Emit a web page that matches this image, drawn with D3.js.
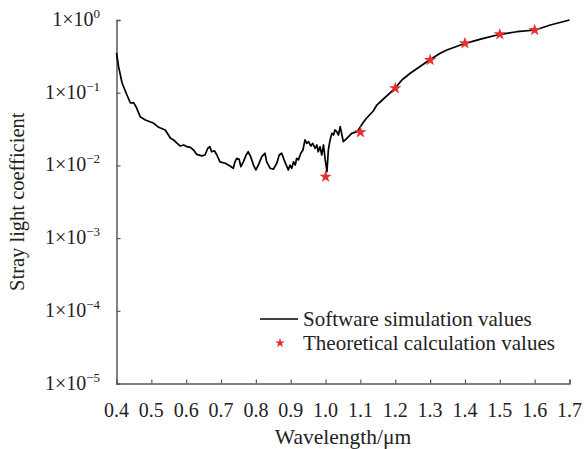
<!DOCTYPE html>
<head>
    <meta charset="utf-8">
    <title>Stray light coefficient</title>
    <style>
        body { margin: 0; background: #fff; }
        text { font-family: "Liberation Serif", "Times New Roman", serif; fill: #222; }
    </style>
</head>
<body>
<svg width="584" height="449"></svg>

<script src="https://d3js.org/d3.v7.min.js"></script>
<script>

    // software simulation curve
    var simWl = [0.400,0.406,0.416,0.430,0.440,0.449,0.456,0.468,0.483,0.507,
        0.521,0.540,0.555,0.564,0.574,0.583,0.593,0.602,0.612,0.621,
        0.630,0.645,0.654,0.662,0.668,0.673,0.681,0.688,0.697,0.712,
        0.726,0.735,0.740,0.745,0.752,0.757,0.764,0.772,0.778,0.785,
        0.793,0.800,0.807,0.817,0.826,0.831,0.841,0.850,0.860,0.867,
        0.874,0.881,0.889,0.893,0.898,0.903,0.908,0.913,0.917,0.922,
        0.929,0.935,0.941,0.946,0.951,0.958,0.963,0.970,0.975,0.979,
        0.984,0.989,0.994,0.999,1.004,1.008,1.013,1.018,1.023,1.027,
        1.032,1.037,1.042,1.051,1.061,1.075,1.090,1.094,1.109,1.118,
        1.137,1.147,1.166,1.200,1.219,1.243,1.271,1.298,1.329,1.348,
        1.401,1.453,1.501,1.549,1.602,1.645,1.700];
    var simVal = [0.352,0.228,0.136,0.093,0.0722,0.0729,0.0642,0.0468,0.0421,0.0379,
        0.0334,0.0307,0.0236,0.0224,0.0201,0.0185,0.0191,0.0181,0.0177,0.0163,
        0.0142,0.0135,0.0139,0.0172,0.0181,0.0154,0.0159,0.0139,0.0112,0.0107,
        0.00981,0.00912,0.0112,0.0125,0.0121,0.0096,0.0112,0.0139,0.0154,0.0132,
        0.0101,0.00865,0.0101,0.0132,0.0147,0.0112,0.00912,0.00884,0.0107,0.0139,
        0.0147,0.0119,0.0096,0.00865,0.0101,0.00912,0.0112,0.0101,0.0125,0.0119,
        0.0147,0.0163,0.0224,0.0201,0.0212,0.0185,0.0201,0.0172,0.0191,0.0154,
        0.0181,0.0139,0.0191,0.0119,0.00819,0.0163,0.0224,0.0276,0.0262,0.0307,
        0.0291,0.0262,0.0341,0.0212,0.0236,0.0276,0.0291,0.0307,0.0395,0.0449,
        0.056,0.0677,0.0819,0.116,0.1495,0.185,0.229,0.282,0.348,0.387,
        0.478,0.56,0.636,0.69,0.729,0.853,1.0];

    // theoretical calculation points
    var theoWl = [1.0, 1.1, 1.2, 1.3, 1.4, 1.5, 1.6];
    var theoVal = [0.0070, 0.0285, 0.115, 0.282, 0.478, 0.636, 0.729];

    var xTicks = [0.4,0.5,0.6,0.7,0.8,0.9,1.0,1.1,1.2,1.3,1.4,1.5,1.6,1.7];
    var yExps = [0, -1, -2, -3, -4, -5];

    var legendNames = ["Software simulation values", "Theoretical calculation values"];

    var svg = d3.select("svg");
    var axisColor = "#5a5a5a";
    var starColor = "#e4312f";

    var x = d3.scaleLinear().domain([0.4, 1.7]).range([116.5, 569.5]);
    var y = d3.scaleLog().domain([1e-5, 1]).range([383.5, 20]);

    // y axis
    var yAxis = svg.append("g")
        .attr("transform", "translate(" + x.range()[0] + ",0)")
        .call(d3.axisRight(y)
            .tickValues(yExps.map(function (e) { return Math.pow(10, e); }))
            .tickSize(4)
            .tickFormat(""));
    yAxis.select(".domain").attr("stroke", axisColor).attr("stroke-width", 1.5);
    yAxis.selectAll(".tick line").attr("stroke", axisColor).attr("stroke-width", 1.2);

    // y tick labels with superscript exponents
    var yl = svg.append("g").selectAll("text")
        .data(yExps)
        .enter().append("text")
        .attr("x", 100)
        .attr("y", function (d) { return y(Math.pow(10, d)) + 6; })
        .attr("text-anchor", "end")
        .attr("font-size", 20);
    yl.append("tspan").text("1×10");
    yl.append("tspan")
        .attr("font-size", 13)
        .attr("dy", -8)
        .text(function (d) { return d === 0 ? "0" : "−" + (-d); });

    // x axis
    var xAxis = svg.append("g")
        .attr("transform", "translate(0," + y.range()[0] + ")")
        .call(d3.axisTop(x)
            .tickValues(xTicks)
            .tickSize(4)
            .tickFormat(""));
    xAxis.select(".domain").attr("stroke", axisColor).attr("stroke-width", 1.5);
    xAxis.selectAll(".tick line").attr("stroke", axisColor).attr("stroke-width", 1.2);

    svg.append("g").selectAll("text")
        .data(xTicks)
        .enter().append("text")
        .attr("x", function (d) { return x(d); })
        .attr("y", 417)
        .attr("text-anchor", "middle")
        .attr("font-size", 20)
        .text(function (d) { return d.toFixed(1); });

    // axis titles
    svg.append("text")
        .attr("x", 343)
        .attr("y", 444)
        .attr("text-anchor", "middle")
        .attr("font-size", 21.5)
        .text("Wavelength/μm");

    svg.append("text")
        .attr("transform", "translate(24," + ((y.range()[0] + y.range()[1]) / 2) + ") rotate(-90)")
        .attr("text-anchor", "middle")
        .attr("font-size", 20.5)
        .text("Stray light coefficient");

    // simulation line
    var line = d3.line()
        .x(function (d) { return x(d[0]); })
        .y(function (d) { return y(d[1]); });

    svg.append("path")
        .datum(d3.zip(simWl, simVal))
        .attr("fill", "none")
        .attr("stroke", "#000")
        .attr("stroke-width", 1.7)
        .attr("stroke-linejoin", "round")
        .attr("d", line);

    // theoretical stars
    var star = d3.symbol().type(d3.symbolStar).size(48);
    svg.append("g").selectAll("path")
        .data(d3.zip(theoWl, theoVal))
        .enter().append("path")
        .attr("transform", function (d) { return "translate(" + x(d[0]) + "," + y(d[1]) + ")"; })
        .attr("d", star)
        .attr("fill", starColor);

    // legend
    var lg = svg.append("g");
    lg.append("line")
        .attr("x1", 260).attr("x2", 298)
        .attr("y1", 319).attr("y2", 319)
        .attr("stroke", "#000").attr("stroke-width", 1.7);
    lg.append("path")
        .attr("transform", "translate(280,343)")
        .attr("d", d3.symbol().type(d3.symbolStar).size(30))
        .attr("fill", starColor);
    lg.selectAll("text")
        .data(legendNames)
        .enter().append("text")
        .attr("x", 303)
        .attr("y", function (d, i) { return 326 + i * 24; })
        .attr("font-size", 21)
        .text(function (d) { return d; });

</script>
</body>
